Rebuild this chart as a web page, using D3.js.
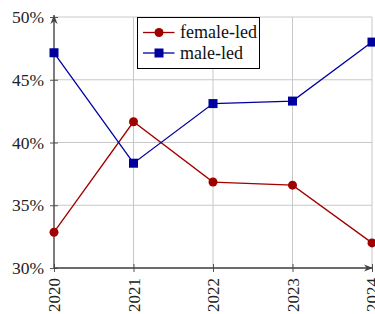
<!DOCTYPE html>
<html>
<head>
<meta charset="utf-8">
<script src="https://cdn.jsdelivr.net/npm/d3@7"></script>
<style>
  body { margin: 0; background: #fff; }
</style>
</head>
<body>
<script>
const width = 375,
      height = 314;

const years = ["2020", "2021", "2022", "2023", "2024"];
const female = [32.85, 41.65, 36.85, 36.6, 32.0];
const male = [47.15, 38.35, 43.1, 43.3, 48.0];
const yTicks = [30, 35, 40, 45, 50];

const margin = {left: 54, right: 3, top: 17, bottom: 46};
const serif = "Liberation Serif";

var svg = d3.select("body").append("svg")
	.attr("width", width)
	.attr("height", height)

var x = d3.scalePoint()
	.domain(years)
	.range([margin.left, width - margin.right])

var y = d3.scaleLinear()
	.domain([30, 50])
	.range([height - margin.bottom, margin.top])

// grid
svg.append("g")
	.selectAll("line")
	.data(years)
	.enter().append("line")
	.attr("x1", d => x(d)).attr("x2", d => x(d))
	.attr("y1", y(30)).attr("y2", y(50))
	.attr("stroke", "#c8c8c8")

svg.append("g")
	.selectAll("line")
	.data(yTicks)
	.enter().append("line")
	.attr("x1", x(years[0])).attr("x2", x(years[years.length - 1]))
	.attr("y1", d => y(d)).attr("y2", d => y(d))
	.attr("stroke", "#c8c8c8")

// axes
var defs = svg.append("defs")
defs.append("marker")
	.attr("id", "arrow")
	.attr("viewBox", "0 0 10 10")
	.attr("refX", 10).attr("refY", 5)
	.attr("markerWidth", 7).attr("markerHeight", 7)
	.attr("orient", "auto")
	.append("path")
	.attr("d", "M0,1 L10,5 L0,9 L3,5 Z")
	.attr("fill", "#444")

var yAxis = svg.append("g")
	.attr("transform", "translate(" + margin.left + ",0)")
	.call(d3.axisLeft(y).tickValues(yTicks).tickSize(4).tickFormat(d => d + "%"))
	.attr("font-family", serif)
yAxis.select(".domain").remove()
yAxis.selectAll(".tick line").attr("stroke", "#555").attr("x2", 4).attr("x1", -4)
yAxis.selectAll("text")
	.attr("x", -10)
	.attr("font-family", serif)
	.attr("font-size", "17.5px")
	.attr("fill", "#222")

var xAxis = svg.append("g")
	.attr("transform", "translate(0," + y(30) + ")")
	.call(d3.axisBottom(x).tickSize(4))
	.attr("font-family", serif)
xAxis.select(".domain").remove()
xAxis.selectAll(".tick line").attr("stroke", "#555").attr("y1", -4).attr("y2", 4)
xAxis.selectAll("text")
	.attr("transform", "rotate(-90)")
	.attr("x", -10)
	.attr("y", 0)
	.attr("dy", "0.35em")
	.attr("text-anchor", "end")
	.attr("font-family", serif)
	.attr("font-size", "17px")
	.attr("fill", "#222")

svg.append("line")
	.attr("x1", margin.left).attr("x2", margin.left)
	.attr("y1", y(30)).attr("y2", y(50) - 2)
	.attr("stroke", "#444").attr("stroke-width", 1.3)
	.attr("marker-end", "url(#arrow)")

svg.append("line")
	.attr("x1", margin.left).attr("x2", width - 2)
	.attr("y1", y(30)).attr("y2", y(30))
	.attr("stroke", "#444").attr("stroke-width", 1.3)
	.attr("marker-end", "url(#arrow)")

// series
const red = "#a00000", blue = "#00009f";

var line = d3.line()
	.x((d, i) => x(years[i]))
	.y(d => y(d))

svg.append("path")
	.datum(female)
	.attr("d", line)
	.attr("fill", "none")
	.attr("stroke", red)
	.attr("stroke-width", 1.3)

svg.append("path")
	.datum(male)
	.attr("d", line)
	.attr("fill", "none")
	.attr("stroke", blue)
	.attr("stroke-width", 1.3)

svg.selectAll(".fdot")
	.data(female)
	.enter().append("circle")
	.attr("class", "fdot")
	.attr("cx", (d, i) => x(years[i]))
	.attr("cy", d => y(d))
	.attr("r", 4.5)
	.attr("fill", red)

svg.selectAll(".msq")
	.data(male)
	.enter().append("rect")
	.attr("class", "msq")
	.attr("x", (d, i) => x(years[i]) - 4.5)
	.attr("y", d => y(d) - 4.5)
	.attr("width", 9).attr("height", 9)
	.attr("fill", blue)

// legend
var legend = svg.append("g").attr("transform", "translate(137.5,17.5)")
legend.append("rect")
	.attr("width", 122).attr("height", 51)
	.attr("fill", "#fff").attr("stroke", "#000").attr("stroke-width", 1)

var entries = [{name: "female-led", color: red, shape: "circle"},
	{name: "male-led", color: blue, shape: "square"}]

var item = legend.selectAll(".item")
	.data(entries)
	.enter().append("g")
	.attr("transform", (d, i) => "translate(0," + (15 + i * 20.5) + ")")

item.append("line")
	.attr("x1", 5.5).attr("x2", 37)
	.attr("stroke", d => d.color).attr("stroke-width", 1.3)

item.each(function (d) {
	var g = d3.select(this)
	if (d.shape == "circle") {
		g.append("circle").attr("cx", 21.5).attr("r", 4.5).attr("fill", d.color)
	} else {
		g.append("rect").attr("x", 17).attr("y", -4.5).attr("width", 9).attr("height", 9).attr("fill", d.color)
	}
})

item.append("text")
	.attr("x", 42.5)
	.attr("dy", "0.33em")
	.attr("font-family", serif)
	.attr("font-size", "18px")
	.attr("fill", "#111")
	.text(d => d.name)
</script>
</body>
</html>
